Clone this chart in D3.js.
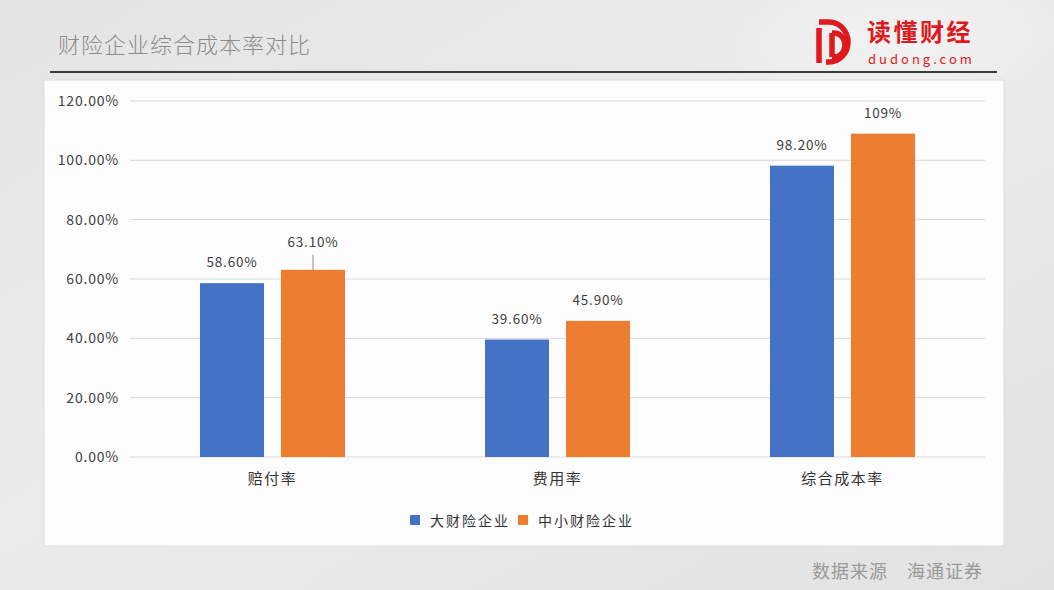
<!DOCTYPE html>
<html>
<head>
<meta charset="utf-8">
<script src="https://cdn.jsdelivr.net/npm/d3@7"></script>
<style>
  html, body { margin: 0; padding: 0; background: #e8e8e8; }
  svg { display: block; }
  text { font-family: "Noto Sans CJK SC", "Noto Sans", sans-serif; }
</style>
</head>
<body>
<svg id="chart" width="1054" height="590"></svg>
<script>
const categories = ["赔付率", "费用率", "综合成本率"];
const seriesNames = ["大财险企业", "中小财险企业"];
const bigInsurers = [58.6, 39.6, 98.2];
const smallInsurers = [63.1, 45.9, 109];
const bigLabels = ["58.60%", "39.60%", "98.20%"];
const smallLabels = ["63.10%", "45.90%", "109%"];
const yTicks = [0, 20, 40, 60, 80, 100, 120];
const yTickLabels = ["0.00%", "20.00%", "40.00%", "60.00%", "80.00%", "100.00%", "120.00%"];
const colors = ["#4472C4", "#ED7D31"];
const title = "财险企业综合成本率对比";
const source = "数据来源　海通证券";

const svg = d3.select("#chart");

// background
const defs = svg.append("defs");
const bg = defs.append("linearGradient").attr("id", "bg").attr("x1", 0).attr("x2", 1).attr("y1", 0).attr("y2", 1);
bg.append("stop").attr("offset", 0).attr("stop-color", "#e4e4e4");
bg.append("stop").attr("offset", 0.45).attr("stop-color", "#ebebeb");
bg.append("stop").attr("offset", 1).attr("stop-color", "#e2e2e2");
svg.append("rect").attr("width", 1054).attr("height", 590).attr("fill", "url(#bg)");
const glow = defs.append("radialGradient").attr("id", "glow");
glow.append("stop").attr("offset", 0).attr("stop-color", "#f3f3f3").attr("stop-opacity", 0.9);
glow.append("stop").attr("offset", 1).attr("stop-color", "#f3f3f3").attr("stop-opacity", 0);
svg.append("ellipse").attr("cx", 900).attr("cy", 40).attr("rx", 180).attr("ry", 70).attr("fill", "url(#glow)");

// title
svg.append("text").attr("x", 58).attr("y", 53).attr("font-size", 22).attr("font-weight", 300)
  .attr("letter-spacing", 1).attr("fill", "#8c8c8c").text(title);
svg.append("line").attr("x1", 50).attr("x2", 997).attr("y1", 72).attr("y2", 72)
  .attr("stroke", "#3a3a3a").attr("stroke-width", 2);

// logo
const logo = svg.append("g").attr("fill", "none").attr("stroke", "#e0191e").attr("stroke-width", 5.5);
logo.append("path").attr("d", "M819,63 V28 M819,22 H829 A19,20 0 0 1 829,62 H826");
logo.append("path").attr("d", "M832,33 V57 M832,33 H834 A11,12 0 0 1 834,57 H832");
svg.append("text").attr("x", 867).attr("y", 41).attr("font-size", 24).attr("font-weight", "bold")
  .attr("fill", "#e0191e").attr("letter-spacing", 2.5).text("读懂财经");
svg.append("text").attr("x", 868).attr("y", 64).attr("font-size", 13)
  .attr("fill", "#e0191e").attr("letter-spacing", 3).text("dudong.com");

// panel
svg.append("rect").attr("x", 44).attr("y", 80).attr("width", 960).attr("height", 466)
  .attr("fill", "#fdfdfd").attr("stroke", "#dedede").attr("stroke-width", 1);

// scales
const x = d3.scaleBand().domain(categories).range([130, 985]).paddingInner(0).paddingOuter(0);
const xs = d3.scaleBand().domain(seriesNames).range([0, x.bandwidth()]).paddingInner(0.21).paddingOuter(0.864);
const y = d3.scaleLinear().domain([0, 120]).range([457, 101]);

// gridlines
svg.append("g").selectAll("line").data(yTicks).join("line")
  .attr("x1", 130).attr("x2", 985)
  .attr("y1", d => y(d)).attr("y2", d => y(d))
  .attr("stroke", "#d9d9d9").attr("stroke-width", 1);

// y axis labels
const yAxis = d3.axisLeft(y).tickValues(yTicks).tickFormat((d, i) => yTickLabels[i]).tickSize(0).tickPadding(0);
const yg = svg.append("g").attr("transform", "translate(119,0)").call(yAxis);
yg.select(".domain").remove();
yg.selectAll("text").attr("font-size", 14).attr("fill", "#404040").attr("letter-spacing", 0.8)
  .attr("font-family", "'Noto Sans CJK SC', sans-serif");

// x axis labels
const xAxis = d3.axisBottom(x).tickSize(0).tickPadding(0);
const xg = svg.append("g").attr("transform", "translate(0,473)").call(xAxis);
xg.select(".domain").remove();
xg.selectAll("text").attr("font-size", 15).attr("fill", "#333").attr("letter-spacing", 1.5)
  .attr("font-family", "'Noto Sans CJK SC', sans-serif");

// bars
const rows = categories.map((c, i) => ({
  cat: c,
  vals: [
    { s: seriesNames[0], v: bigInsurers[i], label: bigLabels[i], ci: 0 },
    { s: seriesNames[1], v: smallInsurers[i], label: smallLabels[i], ci: 1 }
  ]
}));

const groups = svg.append("g").selectAll("g").data(rows).join("g")
  .attr("transform", d => `translate(${x(d.cat)},0)`);

groups.selectAll("rect").data(d => d.vals).join("rect")
  .attr("x", d => xs(d.s)).attr("width", xs.bandwidth())
  .attr("y", d => y(d.v)).attr("height", d => y(0) - y(d.v))
  .attr("fill", d => colors[d.ci]);

// data labels (one label moved up with a leader line, as in the source)
groups.each(function (d, gi) {
  const g = d3.select(this);
  d.vals.forEach((v, vi) => {
    const cx = xs(v.s) + xs.bandwidth() / 2;
    const lifted = gi === 0 && vi === 1;
    const ly = y(v.v) - (lifted ? 23 : 16);
    if (lifted) {
      g.append("line").attr("x1", cx).attr("x2", cx).attr("y1", y(v.v)).attr("y2", y(v.v) - 15)
        .attr("stroke", "#8c8c8c").attr("stroke-width", 1);
    }
    g.append("text").attr("x", cx).attr("y", ly).attr("text-anchor", "middle")
      .attr("font-size", 13.5).attr("fill", "#404040").attr("letter-spacing", 0.8).text(v.label);
  });
});

// legend
const legendItems = [
  { name: seriesNames[0], color: colors[0], x: 410 },
  { name: seriesNames[1], color: colors[1], x: 518 }
];
const lg = svg.append("g").selectAll("g").data(legendItems).join("g")
  .attr("transform", d => `translate(${d.x},515)`);
lg.append("rect").attr("width", 10).attr("height", 10).attr("fill", d => d.color);
lg.append("text").attr("x", 20).attr("y", 10.5).attr("font-size", 14).attr("fill", "#333")
  .attr("letter-spacing", 2).text(d => d.name);

// source
svg.append("text").attr("x", 983).attr("y", 578).attr("text-anchor", "end")
  .attr("font-size", 18).attr("letter-spacing", 1).attr("fill", "#9a9a9a").text(source);
</script>
</body>
</html>
